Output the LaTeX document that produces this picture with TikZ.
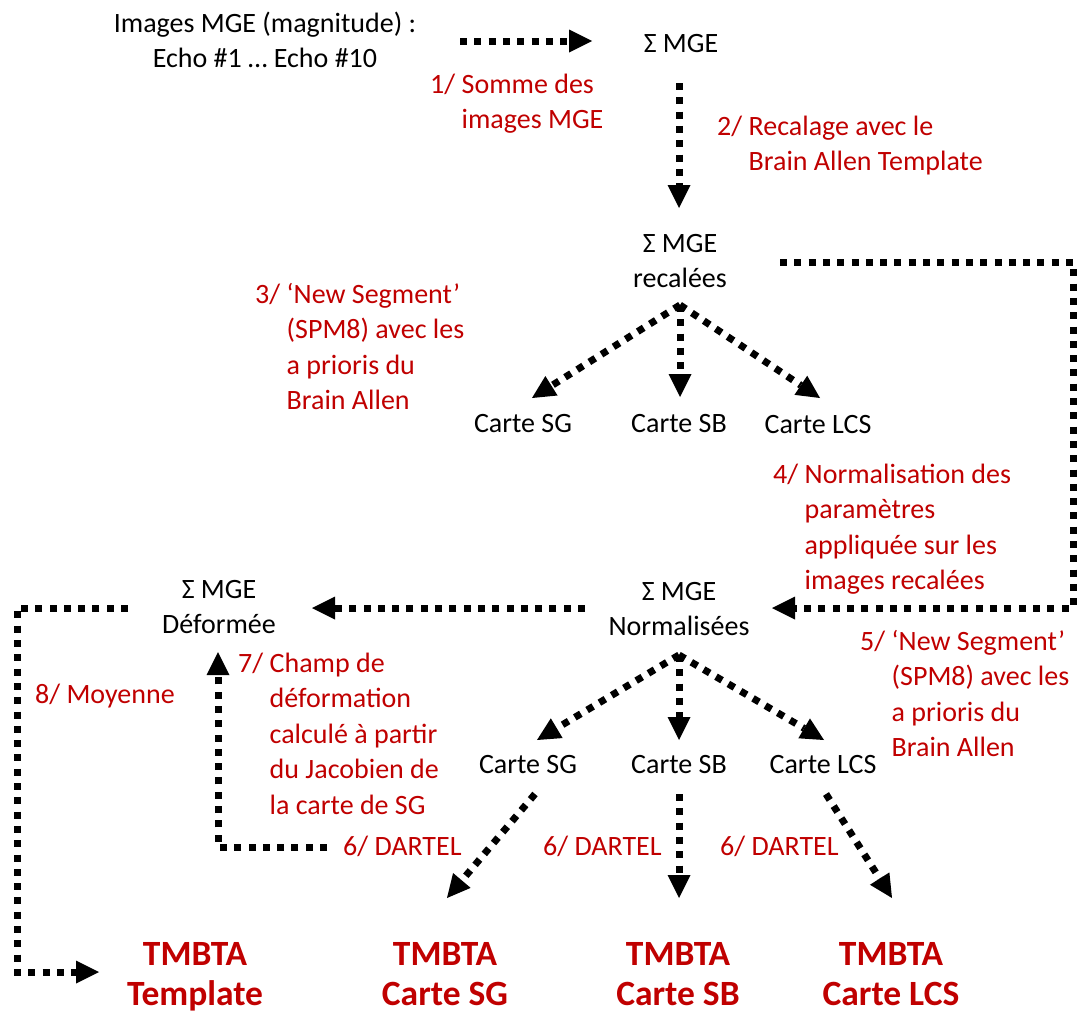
\documentclass[tikz,border=0pt]{standalone}
\usepackage{fontspec}
\setmainfont{Carlito}
\usetikzlibrary{arrows.meta}
\definecolor{redlbl}{RGB}{192,0,0}
\newcommand{\regsz}{\fontsize{28pt}{35.5pt}\selectfont}
\newcommand{\boldsz}{\fontsize{35.5pt}{40pt}\selectfont\bfseries}
\newcommand{\steplabel}[2]{\begin{tabular}[t]{@{}l@{\hspace{6.5pt}}l@{}}#1&#2\end{tabular}}
\newcommand{\cen}[1]{\begin{tabular}[t]{@{}c@{}}#1\end{tabular}}
\begin{document}
\begin{tikzpicture}[x=1pt,y=-1pt,
  txt/.style={inner sep=0pt, anchor=base, font=\regsz},
  lbl/.style={inner sep=0pt, anchor=base west, font=\regsz, text=redlbl},
  res/.style={inner sep=0pt, anchor=base, font=\boldsz, text=redlbl},
  link/.style={line width=7pt, dash pattern=on 7pt off 7.3pt},
  flow/.style={link, -{Triangle[length=23pt,width=23pt,line width=0pt]}}]
\useasboundingbox (0,0) rectangle (1077,1012);

% texts
\node[txt] (src) at (265,32) {\cen{Images MGE (magnitude) :\\Echo \#1 … Echo \#10}};
\node[txt] (sum1) at (681,52) {Σ MGE};
\node[lbl] (l1) at (430,93) {\steplabel{1/}{Somme des\\&images MGE}};
\node[lbl] (l2) at (717,135) {\steplabel{2/}{Recalage avec le\\&Brain Allen Template}};
\node[txt] (sum2) at (680,252) {\cen{Σ MGE\\recalées}};
\node[lbl] (l3) at (255,303) {\steplabel{3/}{‘New Segment’\\&(SPM8) avec les\\&a prioris du\\&Brain Allen}};
\node[txt] (sg1) at (523,432) {Carte SG};
\node[txt] (sb1) at (679,432) {Carte SB};
\node[txt] (lcs1) at (818,433) {Carte LCS};
\node[lbl] (l4) at (773,483) {\steplabel{4/}{Normalisation des\\&paramètres\\&appliquée sur les\\&images recalées}};
\node[txt] (sum3) at (679,600) {\cen{Σ MGE\\Normalisées}};
\node[txt] (sum4) at (219,598) {\cen{Σ MGE\\Déformée}};
\node[lbl] (l5) at (860,650) {\steplabel{5/}{‘New Segment’\\&(SPM8) avec les\\&a prioris du\\&Brain Allen}};
\node[lbl] (l7) at (238,672) {\steplabel{7/}{Champ de\\&déformation\\&calculé à partir\\&du Jacobien de\\&la carte de SG}};
\node[lbl] (l8) at (35,703) {8/ Moyenne};
\node[txt] (sg2) at (528,773) {Carte SG};
\node[txt] (sb2) at (679,773) {Carte SB};
\node[txt] (lcs2) at (823,773) {Carte LCS};
\node[lbl] (d1) at (343,855) {6/ DARTEL};
\node[lbl] (d2) at (543,855) {6/ DARTEL};
\node[lbl] (d3) at (720,855) {6/ DARTEL};
\node[res] (t1) at (195,965) {\cen{TMBTA\\Template}};
\node[res] (t2) at (445,965) {\cen{TMBTA\\Carte SG}};
\node[res] (t3) at (678,965) {\cen{TMBTA\\Carte SB}};
\node[res] (t4) at (891,965) {\cen{TMBTA\\Carte LCS}};

% connector ports
\coordinate (srcOut) at (460,41);
\coordinate (sum1In) at (592,41);
\coordinate (sum1Out) at (679,83);
\coordinate (sum2In) at (679,208);
\coordinate (sum2Side) at (780,262);
\coordinate (rightCorner) at (1073,608);
\coordinate (sum3In) at (772,608);
\coordinate (fork1) at (680,305);
\coordinate (sg1In) at (532,398);
\coordinate (sb1In) at (680,397);
\coordinate (lcs1In) at (820,398);
\coordinate (sum3Side) at (585,608);
\coordinate (sum4In) at (312,608);
\coordinate (sum4Side) at (128,608);
\coordinate (leftCorner) at (17,972);
\coordinate (t1In) at (99,972);
\coordinate (d1Out) at (327,847);
\coordinate (sum4Below) at (218,652);
\coordinate (fork2) at (679,655);
\coordinate (sg2In) at (537,740);
\coordinate (sb2In) at (679,740);
\coordinate (lcs2In) at (824,740);
\coordinate (sg2Out) at (535,794);
\coordinate (sb2Out) at (679,794);
\coordinate (lcs2Out) at (826,794);
\coordinate (t2In) at (447,898);
\coordinate (t3In) at (679,898);
\coordinate (t4In) at (892,898);

% connectors
\draw[flow] (srcOut) -- (sum1In);
\draw[flow] (sum1Out) -- (sum2In);
\draw[flow] (sum2Side) -| (rightCorner) -- (sum3In);
\draw[flow] (fork1) -- (sg1In);
\draw[flow] (fork1) -- (sb1In);
\draw[flow] (fork1) -- (lcs1In);
\draw[flow] (sum3Side) -- (sum4In);
\draw[flow] (sum4Side) -| (leftCorner) -- (t1In);
\draw[flow] (d1Out) -| (sum4Below);
\draw[flow] (fork2) -- (sg2In);
\draw[flow] (fork2) -- (sb2In);
\draw[flow] (fork2) -- (lcs2In);
\draw[flow] (sg2Out) -- (t2In);
\draw[flow] (sb2Out) -- (t3In);
\draw[flow] (lcs2Out) -- (t4In);
\end{tikzpicture}
\end{document}
